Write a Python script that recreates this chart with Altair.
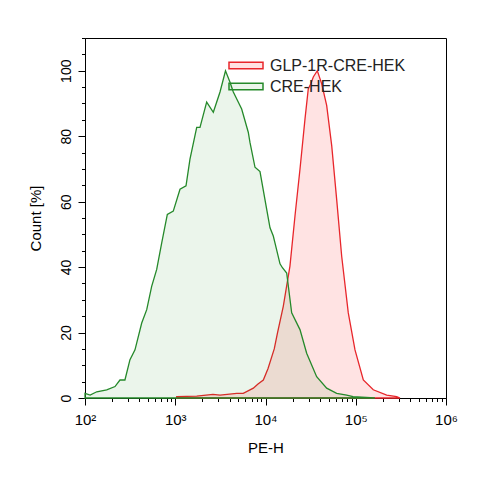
import altair as alt
import pandas as pd

series_names = ["GLP-1R-CRE-HEK", "CRE-HEK"]

green_x = [100, 114, 135, 174, 215, 244, 277, 315, 358, 425, 483, 548, 623, 708, 817, 951,
           1129, 1316, 1456, 1729, 1880, 2229, 2641, 3133, 3604, 4044, 4399, 5445, 6443, 6730,
           7650, 8690, 10300, 11220, 12200, 12730, 14480, 15400, 17170, 19500, 24100, 28580,
           36880, 47620, 61450, 79400, 93300, 163000]
green_y = [1.4, 0.9, 1.9, 2.5, 3.5, 5.5, 5.5, 11.7, 14.7, 22.9, 27, 34.1, 39.3, 47.4, 56.1, 57.1,
           63.8, 64.8, 73, 82.7, 82.7, 90.4, 87.3, 93.5, 100, 96.5, 93.5, 88.3, 81.2, 78.1,
           70.5, 69.2, 57.7, 52, 49.5, 47.4, 41, 39.8, 38.2, 26, 20.9, 13.7,
           6.5, 3, 1.4, 0.9, 0.4, 0]

red_x = [1038, 1730, 2618, 3133, 4800, 5670, 7330, 8260, 9460, 10670, 12500, 13600, 15740,
         18660, 21220, 24100, 27400, 29800, 31800, 33870, 37500, 41970, 47620, 54150, 61450,
         69850, 82660, 98100, 121300, 156400, 220300, 284000, 309000]
red_y = [0.4, 0.6, 1.1, 0.9, 1.4, 1.4, 3, 4.3, 5.5, 9, 15, 20, 28,
         40.3, 55.6, 69.9, 85.3, 94.5, 96, 98.1, 100, 96, 89.4, 77.1, 60.7,
         43.3, 26, 14.7, 5.5, 2.5, 0.9, 0.4, 0]

x_ticks = [m * 10 ** e for e in range(2, 6) for m in range(1, 10)] + [10 ** 6]
y_ticks = list(range(0, 111, 5))

df = pd.concat([
    pd.DataFrame({"PE-H": red_x, "Count": red_y, "series": series_names[0]}),
    pd.DataFrame({"PE-H": green_x, "Count": green_y, "series": series_names[1]}),
])

font = "Liberation Sans"

x_label_expr = ("datum.value == 100 ? '10²' : datum.value == 1000 ? '10³' : "
                "datum.value == 10000 ? '10⁴' : datum.value == 100000 ? '10⁵' : "
                "datum.value == 1000000 ? '10⁶' : ''")
x_major_test = "abs(log(datum.value)/LN10 - round(log(datum.value)/LN10)) < 0.000001"

legend_kw = dict(title=None, orient="none", legendX=143, legendY=17,
                 symbolType="M-1,-0.19H1V0.19H-1Z", symbolSize=1156,
                 symbolStrokeWidth=1.5, labelFontSize=16, labelOffset=6,
                 labelColor="#222222", rowPadding=0, clipHeight=21, padding=0,
                 labelFont=font)

chart = alt.Chart(df).mark_area(strokeWidth=1.3, interpolate="linear").encode(
    x=alt.X("PE-H:Q",
            scale=alt.Scale(type="log", domain=[100, 1000000], nice=False),
            axis=alt.Axis(values=x_ticks, labelExpr=x_label_expr, title="PE-H",
                          grid=False, labelFlush=False, labelOverlap=False,
                          tickSize={"condition": {"test": x_major_test, "value": 7}, "value": 3.5},
                          labelFontSize=15, titleFontSize=15, titleFontWeight="normal",
                          labelPadding=7, titlePadding=13)),
    y=alt.Y("Count:Q",
            scale=alt.Scale(domain=[0, 110], nice=False),
            stack=None,
            axis=alt.Axis(values=y_ticks, title="Count [%]", grid=False,
                          labelExpr="datum.value % 20 == 0 ? datum.label : ''",
                          labelOverlap=False, labelAngle=270, labelAlign="center",
                          labelBaseline="bottom",
                          tickSize={"condition": {"test": "datum.value % 20 == 0", "value": 7}, "value": 3.5},
                          labelFontSize=14, titleFontSize=15, titleFontWeight="normal",
                          labelPadding=5, titlePadding=16)),
    fill=alt.Fill("series:N",
                  scale=alt.Scale(domain=series_names,
                                  range=["rgba(255,0,0,0.11)", "rgba(0,128,0,0.08)"]),
                  legend=alt.Legend(**legend_kw)),
    stroke=alt.Stroke("series:N",
                      scale=alt.Scale(domain=series_names, range=["#e8262b", "#25892a"]),
                      legend=alt.Legend(**legend_kw)),
).properties(
    width=361, height=360,
    autosize=alt.AutoSizeParams(type="none"),
    padding={"left": 77, "top": 30, "right": 20, "bottom": 80},
).configure_view(
    stroke="black", strokeWidth=1
).configure_axis(
    domainColor="black", tickColor="black", labelColor="black", titleColor="black",
    labelFont=font, titleFont=font, domainWidth=1, tickWidth=1, zindex=1
)

chart.save("out.html", embed_options={"renderer": "svg", "actions": False})
